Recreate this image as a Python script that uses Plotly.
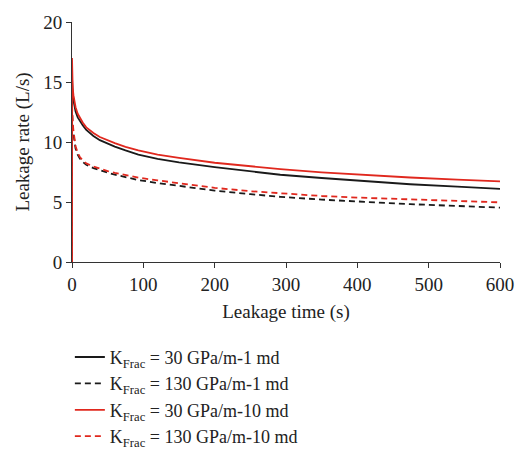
import plotly.graph_objects as go

# Leakage time samples (s); the repeated 0 gives the initial jump from zero to the peak rate
time_s = [0, 0, 0.5, 1, 2, 3, 5, 8, 11, 15, 20, 30, 39, 50, 60, 75, 93,
          120, 150, 200, 250, 292, 350, 400, 474, 540, 600]

# Leakage rate (L/s) for each fracture stiffness / permeability case
rate_30_1md = [0, 15.4, 14.6, 14.1, 13.5, 13.1, 12.55, 12.05, 11.75, 11.4, 11.0, 10.5, 10.15,
               9.85, 9.62, 9.3, 8.95, 8.6, 8.3, 7.9, 7.55, 7.27, 7.0, 6.8, 6.48, 6.28, 6.1]
rate_130_1md = [0, 12.8, 11.9, 11.3, 10.7, 10.1, 9.45, 8.95, 8.62, 8.35, 8.1, 7.83, 7.63,
                7.45, 7.28, 7.06, 6.83, 6.58, 6.33, 5.95, 5.65, 5.43, 5.2, 5.03, 4.82, 4.67, 4.53]
rate_30_10md = [0, 17.0, 15.2, 14.5, 13.9, 13.45, 12.9, 12.35, 12.0, 11.62, 11.22, 10.75, 10.42,
                10.12, 9.9, 9.6, 9.3, 8.95, 8.67, 8.27, 7.97, 7.74, 7.47, 7.28, 7.04, 6.87, 6.72]
rate_130_10md = [0, 13.2, 12.2, 11.6, 10.95, 10.35, 9.65, 9.1, 8.75, 8.47, 8.22, 7.95, 7.76,
                 7.58, 7.43, 7.23, 7.03, 6.8, 6.55, 6.18, 5.9, 5.72, 5.5, 5.37, 5.2, 5.07, 4.97]

series_names = [
    "K<sub>Frac</sub> = 30 GPa/m-1 md",
    "K<sub>Frac</sub> = 130 GPa/m-1 md",
    "K<sub>Frac</sub> = 30 GPa/m-10 md",
    "K<sub>Frac</sub> = 130 GPa/m-10 md",
]

BLACK = "#1a1a1a"
RED = "#e0281e"
FONT = "Liberation Serif"
FS = 19

fig = go.Figure()
styles = [
    (rate_30_1md, BLACK, "solid"),
    (rate_130_1md, BLACK, "6px,4px"),
    (rate_30_10md, RED, "solid"),
    (rate_130_10md, RED, "6px,4px"),
]
for name, (vals, color, dash) in zip(series_names, styles):
    fig.add_trace(go.Scatter(
        x=time_s, y=vals, mode="lines", name=name,
        line=dict(color=color, width=1.8, dash=dash),
    ))

axis_common = dict(
    showgrid=False, zeroline=False, showline=True, linecolor="#333333", linewidth=1,
    ticks="outside", ticklen=5, tickcolor="#333333",
    tickfont=dict(family=FONT, size=FS, color="#222222"),
)

fig.update_layout(
    width=527, height=474,
    margin=dict(l=72, r=27, t=15, b=212),
    plot_bgcolor="white", paper_bgcolor="white",
    font=dict(family=FONT, size=FS, color="#222222"),
    xaxis=dict(range=[0, 600], dtick=100,
               title=dict(text="Leakage time (s)", font=dict(family=FONT, size=FS), standoff=10),
               **axis_common),
    yaxis=dict(range=[0, 20], dtick=5,
               title=dict(text="Leakage rate (L/s)", font=dict(family=FONT, size=FS), standoff=8),
               **axis_common),
    legend=dict(
        x=-0.005, y=-0.32, xanchor="left", yanchor="top",
        font=dict(family=FONT, size=18, color="#222222"),
        bgcolor="rgba(0,0,0,0)", tracegroupgap=0,
    ),
)

fig.write_html("out.html")
